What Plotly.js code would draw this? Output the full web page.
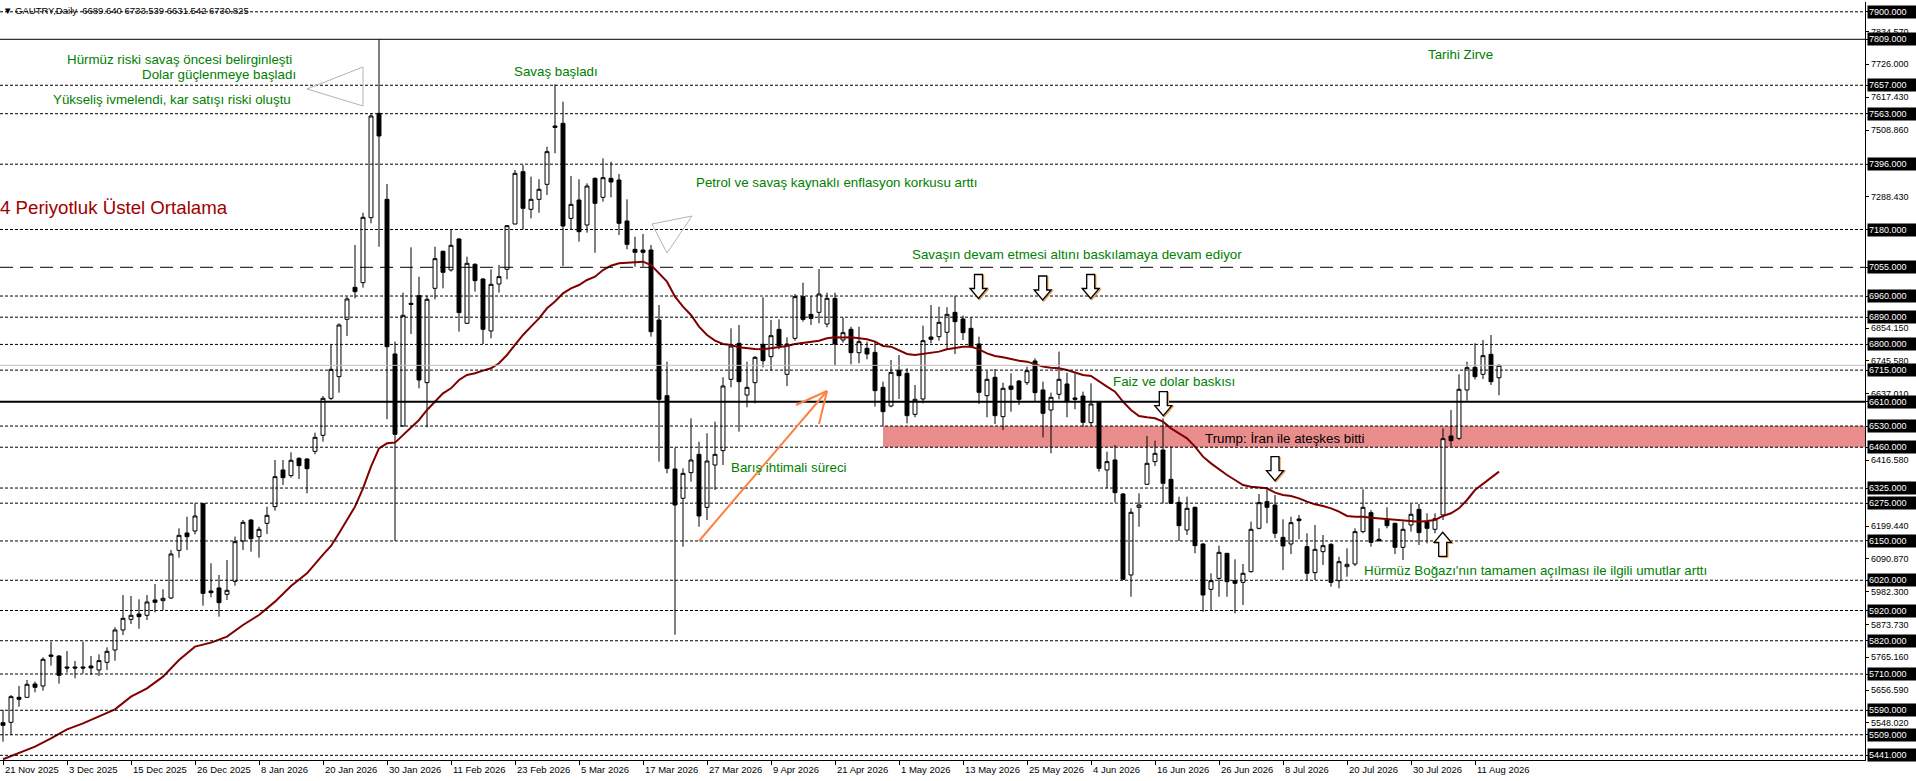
<!DOCTYPE html>
<html><head><meta charset="utf-8">
<script src="https://cdn.plot.ly/plotly-3.0.1.min.js"></script>
<style>html,body{margin:0;padding:0;background:#fff;overflow:hidden}#chart{width:1916px;height:781px}</style>
</head><body><div id="chart"></div>
<script>
// ---------- DATA ----------
const dateLabels = ["21 Nov 2025","3 Dec 2025","15 Dec 2025","26 Dec 2025","8 Jan 2026","20 Jan 2026","30 Jan 2026","11 Feb 2026","23 Feb 2026","5 Mar 2026","17 Mar 2026","27 Mar 2026","9 Apr 2026","21 Apr 2026","1 May 2026","13 May 2026","25 May 2026","4 Jun 2026","16 Jun 2026","26 Jun 2026","8 Jul 2026","20 Jul 2026","30 Jul 2026","11 Aug 2026"];
const dateLabelBars = [0,8,16,24,32,40,48,56,64,72,80,88,96,104,112,120,128,136,144,152,160,168,176,184];

const opens = [5549.1,5550.2,5632.9,5632.9,5677.0,5670.4,5772.9,5769.6,5733.2,5733.2,5733.2,5736.5,5723.3,5748.7,5789.4,5855.6,5890.8,5908.5,5904.1,5954.8,5952.6,5961.4,6119.0,6176.4,6183.0,6273.4,5984.6,5994.5,5973.5,6016.5,6149.9,6219.3,6164.2,6208.3,6263.4,6384.7,6366.0,6423.3,6421.1,6446.4,6499.3,6621.8,6693.4,6883.0,6988.8,7004.2,7219.2,7564.2,7279.8,6768.4,6530.3,6935.9,6961.3,6673.6,6985.5,7107.9,7046.2,7148.7,6869.8,7064.9,7016.4,6844.4,6999.8,7048.3,7198.2,7371.3,7246.8,7279.8,7329.4,7522.3,7531.1,7216.9,7277.5,7194.9,7349.2,7286.4,7349.2,7343.7,7208.1,7114.4,7112.2,7112.2,6880.7,6630.5,6388.0,6291.0,6375.9,6436.5,6261.2,6401.2,6448.6,6684.5,6803.6,6632.7,6673.5,6800.2,6759.5,6849.8,6701.1,6820.1,6957.9,6899.5,6906.1,6867.5,6952.4,6814.6,6849.9,6772.7,6787.1,6773.8,6658.1,6596.4,6714.3,6704.4,6568.8,6619.5,6824.5,6825.6,6840.0,6906.1,6884.1,6853.2,6801.4,6630.5,6691.2,6561.1,6662.5,6679.0,6673.5,6745.2,6649.3,6583.1,6635.0,6669.1,6622.8,6629.4,6541.3,6610.7,6384.7,6417.8,6305.4,6037.5,6261.2,6337.3,6412.2,6450.8,6353.8,6277.8,6186.3,6261.2,6140.0,5990.0,6026.4,6109.1,6018.7,6013.2,6048.5,6191.8,6280.0,6268.9,6162.0,6140.0,6222.6,6131.2,6045.2,6114.6,6138.9,6018.7,6065.0,6073.8,6180.8,6243.6,6155.4,6219.3,6208.3,6128.9,6202.8,6254.6,6213.8,6188.5,6235.9,6497.1,6489.4,6649.3,6724.2,6701.1,6767.2,6689.640];
const highs = [5591.0,5640.6,5670.4,5690.2,5684.7,5765.2,5817.0,5771.8,5786.1,5753.1,5817.0,5769.6,5775.1,5798.3,5864.4,5971.3,5968.0,5957.0,5971.3,6007.7,5990.1,6120.1,6191.8,6230.4,6274.5,6274.5,6076.0,6037.5,6087.1,6164.2,6219.3,6221.5,6197.3,6263.4,6417.8,6417.8,6443.1,6426.6,6423.3,6508.1,6629.4,6801.5,6869.8,6958.0,7128.8,7235.7,7564.2,7809.0,7330.5,6809.2,6971.2,7121.1,7024.1,6961.3,7123.3,7110.1,7180.6,7150.9,7090.2,7068.2,7018.6,7048.3,7062.7,7194.9,7376.8,7393.4,7354.8,7346.0,7454.0,7660.1,7602.7,7356.9,7345.9,7332.6,7352.5,7415.3,7404.3,7363.5,7279.7,7156.3,7165.1,7128.7,6930.3,6742.9,6458.5,6390.2,6555.5,6478.4,6505.9,6544.5,6691.1,6853.2,6864.2,6742.9,6761.7,6955.7,6880.7,6882.9,6823.4,6966.7,7004.2,6960.1,7049.4,6971.1,6971.1,6888.4,6858.7,6858.7,6809.1,6809.1,6676.8,6748.5,6765.0,6720.9,6665.8,6862.0,6930.4,6924.9,6922.7,6961.2,6895.1,6889.6,6825.6,6713.2,6718.7,6673.5,6704.4,6682.4,6726.4,6754.0,6676.8,6640.5,6776.1,6706.6,6704.4,6643.8,6671.3,6610.7,6445.3,6467.4,6307.6,6258.0,6307.5,6497.1,6481.7,6555.5,6461.8,6296.5,6296.5,6263.4,6142.2,6043.0,6134.4,6109.1,6089.3,6073.8,6213.8,6305.3,6320.7,6302.0,6221.5,6230.4,6235.9,6175.3,6202.8,6169.7,6142.2,6098.1,6125.6,6191.8,6320.7,6252.4,6191.8,6261.2,6210.5,6213.8,6272.3,6272.3,6241.4,6241.4,6522.5,6583.1,6701.1,6742.9,6803.6,6814.6,6831.1,6733.539];
const lows = [5486.3,5508.3,5602.0,5632.9,5649.5,5655.0,5737.6,5678.1,5714.5,5695.7,5712.3,5706.8,5703.5,5723.3,5754.2,5839.0,5875.4,5860.0,5888.6,5914.0,5921.7,5958.1,6094.8,6120.1,6172.0,5936.1,5963.6,5899.7,5954.8,6002.2,6120.1,6114.6,6094.8,6173.1,6250.2,6335.1,6359.3,6354.9,6307.5,6436.5,6478.4,6616.3,6640.5,6827.9,6952.4,6987.7,7200.5,7123.3,6552.3,6150.0,6528.1,6834.5,6654.8,6525.9,6949.2,6985.5,7040.6,6842.2,6867.6,6974.5,6801.5,6820.2,6971.2,7015.3,7197.1,7180.6,7217.0,7235.7,7294.2,7431.9,7059.3,7178.3,7139.8,7169.5,7103.4,7272.0,7286.4,7161.8,7114.4,7057.1,7057.1,6825.6,6412.2,6373.6,5840.0,6131.1,6346.1,6197.3,6219.3,6318.5,6401.2,6658.0,6511.4,6591.9,6605.1,6724.2,6713.2,6783.7,6662.5,6812.4,6875.2,6864.2,6869.7,6856.5,6728.6,6805.8,6734.2,6737.5,6750.7,6594.2,6530.2,6592.0,6619.5,6539.0,6558.9,6605.2,6803.6,6812.4,6781.6,6768.3,6814.6,6787.1,6603.0,6558.9,6536.8,6517.0,6577.6,6599.7,6665.8,6610.7,6492.7,6439.9,6618.4,6558.9,6585.4,6528.0,6530.2,6379.2,6324.1,6276.7,6021.0,5965.8,6197.3,6335.1,6397.9,6274.5,6272.3,6149.9,6169.7,6109.1,5916.2,5921.7,5965.8,5965.8,5910.7,5938.2,6045.2,6188.5,6208.3,6158.7,6054.0,6106.9,6155.4,6018.7,6020.9,6070.5,5998.9,5993.4,6031.9,6067.2,6175.3,6131.2,6147.7,6191.8,6106.9,6087.1,6180.8,6136.7,6142.2,6175.3,6219.3,6461.9,6483.9,6614.0,6684.5,6685.6,6665.8,6631.542];
const closes = [5540.3,5635.1,5626.3,5675.9,5666.0,5758.6,5768.5,5705.7,5729.9,5729.9,5729.9,5729.9,5754.2,5785.0,5855.6,5894.1,5904.1,5899.7,5948.2,5947.1,5960.3,6106.9,6168.6,6164.2,6232.6,5976.8,5979.0,5946.0,5986.8,6147.7,6211.6,6157.6,6188.5,6234.8,6362.6,6359.3,6416.7,6399.0,6389.1,6492.7,6621.7,6717.7,6864.3,6950.3,6974.5,7220.3,7555.4,7489.3,6792.6,6502.7,6896.3,6932.6,6682.4,6949.2,7083.6,7038.4,7127.7,6905.0,7068.2,7010.9,6850.0,6998.7,7024.1,7192.7,7365.8,7250.1,7279.8,7312.9,7437.5,7517.9,7191.6,7263.2,7172.8,7323.8,7266.5,7351.4,7337.1,7200.4,7130.9,7104.5,7104.5,6842.1,6618.4,6390.2,6268.9,6373.6,6417.8,6232.6,6414.4,6436.5,6662.5,6794.7,6676.8,6658.0,6757.2,6746.2,6828.9,6794.7,6801.3,6957.9,6882.9,6886.2,6966.7,6952.4,6801.3,6838.8,6772.7,6809.1,6768.3,6647.1,6577.6,6707.7,6696.7,6564.4,6618.4,6812.4,6816.8,6873.0,6899.5,6875.2,6838.9,6792.6,6641.6,6684.5,6564.4,6654.8,6651.5,6618.4,6713.2,6640.5,6572.1,6625.0,6684.5,6610.7,6618.4,6542.4,6603.0,6390.2,6412.3,6309.8,6023.2,6244.8,6268.9,6406.7,6439.8,6340.6,6274.5,6200.6,6257.9,6134.4,5971.3,6018.7,6112.4,6015.4,6009.9,6043.0,6188.5,6276.7,6261.2,6175.3,6133.4,6210.5,6217.1,6043.0,6122.3,6134.4,6013.2,6081.5,6072.7,6180.8,6261.2,6145.5,6151.0,6200.6,6128.9,6188.5,6238.1,6177.5,6191.8,6223.7,6488.3,6481.7,6651.5,6723.1,6693.3,6762.8,6676.8,6730.825];

const maBars = [0,2,4,6,8,10,12,14,16,18,20,22,24,26,28,30,32,34,36,38,40,41,42,43,44,45,46,47,48,49,50,51,52,53,54,55,56,57,58,59,60,61,62,63,64,65,66,67,68,69,70,71,72,73,74,75,76,77,78,79,80,81,82,83,84,85,86,87,88,89,90,91,92,93,94,95,96,97,98,99,100,101,102,103,104,105,106,107,108,109,110,111,112,113,114,115,116,117,118,119,120,121,122,123,124,125,126,127,128,129,130,131,132,133,134,135,136,137,138,139,140,141,142,143,144,145,146,147,148,149,150,151,152,153,154,155,156,157,158,159,160,161,162,163,164,165,166,167,168,169,170,171,172,173,174,175,176,177,178,179,180,181,182,183,184,185,186,187];
const maValues = [5427.9,5447.7,5469.8,5497.3,5527.1,5546.9,5569.0,5593.2,5635.1,5662.7,5701.3,5756.4,5800.5,5813.7,5833.5,5872.1,5905.2,5949.3,6001.1,6043.0,6105.0,6133.4,6175.3,6219.4,6263.5,6324.1,6395.8,6456.4,6473.0,6475.2,6500.5,6528.2,6550.1,6583.2,6610.7,6638.3,6654.8,6682.4,6698.9,6704.4,6713.3,6721.0,6737.5,6765.1,6798.2,6831.2,6858.8,6886.3,6919.5,6942.0,6968.9,6985.4,6996.4,7013.0,7024.0,7046.1,7060.4,7068.1,7070.3,7071.4,7073.6,7062.6,7035.0,7007.5,6957.9,6924.8,6897.3,6858.7,6831.1,6812.4,6801.4,6798.0,6790.3,6787.0,6784.8,6783.7,6787.0,6790.3,6794.7,6801.4,6805.8,6809.1,6812.4,6820.1,6823.4,6823.0,6823.5,6820.1,6816.8,6809.1,6794.8,6792.6,6781.6,6768.3,6765.0,6768.3,6770.5,6776.1,6783.8,6787.1,6792.6,6792.6,6783.8,6770.5,6761.7,6757.3,6750.7,6746.3,6743.0,6735.3,6726.5,6723.1,6720.9,6715.4,6706.6,6698.9,6695.6,6676.8,6660.3,6643.8,6610.7,6583.1,6563.0,6558.8,6555.5,6544.5,6522.5,6505.9,6489.4,6461.8,6428.8,6406.7,6386.9,6368.1,6351.6,6335.1,6329.6,6327.3,6324.0,6309.7,6302.0,6298.7,6291.0,6280.0,6271.1,6265.6,6257.9,6246.9,6232.6,6230.4,6230.4,6227.1,6224.8,6221.5,6219.3,6217.1,6213.8,6213.8,6216.0,6219.3,6232.6,6241.4,6257.9,6285.5,6318.5,6338.4,6360.4,6379.2];

const levelsDashed = [7900,7657,7563,7396,7180,6960,6890,6800,6715,6530,6460,6325,6275,6150,6020,5920,5820,5710,5590,5509,5441];
const levelsSolid = [7809];
const levelsThick = [6610];
const levelsLongDash = [7055];
const levelLabels = [7900,7809,7657,7563,7396,7180,7055,6960,6890,6800,6715,6610,6530,6460,6325,6275,6150,6020,5920,5820,5710,5590,5509,5441];
const scaleLabels = [7834.570,7726.000,7617.430,7508.860,7288.430,6854.150,6745.580,6637.010,6416.580,6199.440,6090.870,5982.300,5873.730,5765.160,5656.590,5548.020];
const zoneLow = 6460, zoneHigh = 6530, zoneStartBar = 110;

// ---------- HELPERS (pixel -> axis units for placing drawn objects) ----------
const pxX = px => (px - 3) / 8;
const pxY = py => 7809 - (py - 39.3) * 3.307;
const pyPaper = py => (760 - py) / 758;
const FONT = 'Liberation Sans, Arial, sans-serif';
const GREEN = '#008000';

const bars = opens.map((_, i) => i);
const last = bars.length - 1;

const traces = [
  {type:'candlestick', x:bars, open:opens, high:highs, low:lows, close:closes,
   increasing:{line:{color:'#000',width:1}, fillcolor:'#fff'},
   decreasing:{line:{color:'#000',width:1}, fillcolor:'#000'},
   whiskerwidth:0, hoverinfo:'skip', showlegend:false},
  {type:'scatter', mode:'lines', x:maBars, y:maValues, line:{color:'#800000', width:2}, hoverinfo:'skip', showlegend:false}
];

const shapes = [];
shapes.push({type:'rect', xref:'x', yref:'y', x0:zoneStartBar, x1:240, y0:zoneLow, y1:zoneHigh, fillcolor:'#e98c8c', line:{width:0}, layer:'below'});
levelsDashed.forEach(v => shapes.push({type:'line', xref:'paper', yref:'y', x0:0, x1:1, y0:v, y1:v, line:{color:'#000', width:1, dash:'3px,2px'}, layer:'above'}));
levelsSolid.forEach(v => shapes.push({type:'line', xref:'paper', yref:'y', x0:0, x1:1, y0:v, y1:v, line:{color:'#000', width:1}, layer:'above'}));
levelsLongDash.forEach(v => shapes.push({type:'line', xref:'paper', yref:'y', x0:0, x1:1, y0:v, y1:v, line:{color:'#000', width:1, dash:'13px,7px'}, layer:'above'}));
levelsThick.forEach(v => shapes.push({type:'line', xref:'paper', yref:'y', x0:0, x1:1, y0:v, y1:v, line:{color:'#000', width:2}, layer:'above'}));
// bid line
shapes.push({type:'line', xref:'paper', yref:'y', x0:0, x1:1, y0:closes[last], y1:closes[last], line:{color:'#c0c0c0', width:1}, layer:'above'});

// gray triangles
function tri(pts){ return {type:'path', xref:'x', yref:'y', path:'M'+pts.map(p=>pxX(p[0])+','+pxY(p[1])).join(' L')+' Z', line:{color:'#b4b4b4', width:1}, fillcolor:'rgba(0,0,0,0)', layer:'above'}; }
shapes.push(tri([[307,89],[363,67],[363,106]]));
shapes.push(tri([[652,224],[692,216],[667,253]]));

// orange arrow
const oc = '#ff8040';
[[[699,541],[827,391]],[[827,391],[796,405]],[[827,391],[819,424]]].forEach(s => shapes.push({type:'line', xref:'x', yref:'y', x0:pxX(s[0][0]), y0:pxY(s[0][1]), x1:pxX(s[1][0]), y1:pxY(s[1][1]), line:{color:oc, width:2}, layer:'above'}));

// hollow block arrows (tip anchored)
const downPath = 'M -4,24 L 4,24 L 4,10 L 8.5,10 L 0,0 L -8.5,10 L -4,10 Z';
const downShadow = 'M -3,23 L 5,23 L 5,9 L 9.5,9 L 1,-1 L -7.5,9 L -3,9 Z';
const upPath = 'M -4,-24 L 4,-24 L 4,-10 L 8.5,-10 L 0,0 L -8.5,-10 L -4,-10 Z';
const upShadow = 'M -3,-25 L 5,-25 L 5,-11 L 9.5,-11 L 1,-1 L -7.5,-11 L -3,-11 Z';
function arrow(px, py, up){
  const base = {type:'path', xref:'x', yref:'y', xsizemode:'pixel', ysizemode:'pixel', xanchor:pxX(px), yanchor:pxY(py), layer:'above'};
  shapes.push(Object.assign({}, base, {path: up?upShadow:downShadow, line:{color:'#e8a050', width:1.5}, fillcolor:'rgba(0,0,0,0)'}));
  shapes.push(Object.assign({}, base, {path: up?upPath:downPath, line:{color:'#000', width:1.3}, fillcolor:'#fff'}));
}
arrow(978.5, 298.5, false);
arrow(1042.7, 300, false);
arrow(1090.7, 298.5, false);
arrow(1163.3, 415.7, false);
arrow(1275, 480.7, false);
arrow(1442.7, 532.3, true);

// ---------- ANNOTATIONS ----------
const ann = [];
function txt(t, px, py, color, size, anchor){
  ann.push({xref:'x', yref:'y', x:pxX(px), y:pxY(py), text:t, showarrow:false, xanchor:anchor||'left', yanchor:'middle', font:{family:FONT, size:size||13.33, color:color||GREEN}});
}
txt('Hürmüz riski savaş öncesi belirginleşti', 294, 59, GREEN, 13.33, 'right');
txt('Dolar güçlenmeye başladı', 298, 74.5, GREEN, 13.33, 'right');
txt('Yükseliş ivmelendi, kar satışı riski oluştu', 293, 99, GREEN, 13.33, 'right');
txt('Savaş başladı', 512, 71.5);
txt('Tarihi Zirve', 1426, 54);
txt('Petrol ve savaş kaynaklı enflasyon korkusu arttı', 694, 182.5);
txt('Savaşın devam etmesi altını baskılamaya devam ediyor', 910, 254);
txt('Faiz ve dolar baskısı', 1111, 381);
txt('Trump: İran ile ateşkes bitti', 1203, 438.5, '#000');
txt('Barış ihtimali süreci', 729, 467.5);
txt('Hürmüz Boğazı\'nın tamamen açılması ile ilgili umutlar arttı', 1362, 571);
ann.push({xref:'paper', yref:'paper', x:0, y:pyPaper(208), xanchor:'left', yanchor:'middle', xshift:-2, showarrow:false,
  text:'4 Periyotluk Üstel Ortalama', font:{family:FONT, size:18.67, color:'#a00000'}});

// chart title
ann.push({xref:'paper', yref:'paper', x:0, y:pyPaper(10), xanchor:'left', yanchor:'middle', xshift:1, showarrow:false,
  text:'▼ GAUTRY,Daily  '+opens[last].toFixed(3)+' '+highs[last].toFixed(3)+' '+lows[last].toFixed(3)+' '+closes[last].toFixed(3),
  font:{family:FONT, size:9.5, color:'#000'}});

// x labels
dateLabels.forEach((t, k) => ann.push({xref:'x', yref:'paper', x:dateLabelBars[k], y:0, xanchor:'left', yanchor:'middle', yshift:-9.5, showarrow:false, text:t, font:{family:FONT, size:9.5, color:'#000'}}));
// y scale labels
scaleLabels.forEach(v => ann.push({xref:'paper', yref:'y', x:1, y:v, xanchor:'left', yanchor:'middle', xshift:4, showarrow:false, text:v.toFixed(3), font:{family:FONT, size:9, color:'#000'}}));
// highlighted level labels
levelLabels.forEach(v => ann.push({xref:'paper', yref:'y', x:1, y:v, xanchor:'left', yanchor:'middle', xshift:2, showarrow:false, text:v.toFixed(3), bgcolor:'#000', borderpad:1, width:48, align:'left', font:{family:FONT, size:9, color:'#fff'}}));

const layout = {
  width:1916, height:781,
  margin:{l:0, r:51, t:2, b:21, pad:0, autoexpand:false},
  paper_bgcolor:'#fff', plot_bgcolor:'#fff', showlegend:false, hovermode:false,
  boxgap:0.3,
  xaxis:{range:[-0.375, 232.75], showgrid:false, zeroline:false, showline:true, linecolor:'#000', linewidth:1,
         ticks:'outside', ticklen:4, tickcolor:'#000', tickvals:dateLabelBars, showticklabels:false,
         rangeslider:{visible:false}, fixedrange:true},
  yaxis:{range:[5425.6, 7932.4], side:'right', showgrid:false, zeroline:false, showline:true, linecolor:'#000', linewidth:1,
         ticks:'outside', ticklen:3, tickcolor:'#000', tickvals:levelLabels.concat(scaleLabels), showticklabels:false, fixedrange:true},
  shapes:shapes, annotations:ann
};
Plotly.newPlot('chart', traces, layout, {staticPlot:true, displayModeBar:false});
</script></body></html>
